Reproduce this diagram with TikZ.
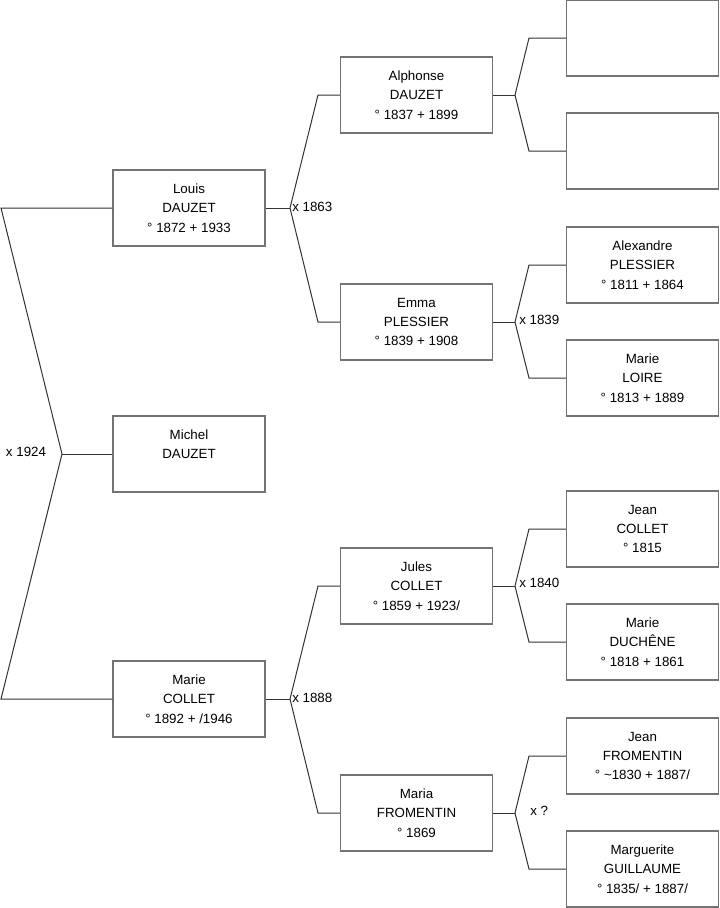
\documentclass[tikz,border=0pt]{standalone}
\usepackage{fontspec}
\setmainfont{Liberation Sans}
\begin{document}
\begin{tikzpicture}[x=0.75pt,y=-0.75pt,
  person/.style={draw=black!55,line width=0.85pt,fill=white,minimum width=114pt,minimum height=57pt,
    inner sep=0pt,align=center,font=\fontsize{10}{14.6}\selectfont,anchor=center},
  link/.style={draw=black!80,line width=0.75pt},
  lbl/.style={font=\fontsize{10}{11}\selectfont,inner sep=0pt}]
\useasboundingbox (0,0) rectangle (719,908);
% column 1
\node[person] (louis) at (189,208) {Louis\\DAUZET\\° 1872 + 1933};
\node[person] (michel) at (189,454) {Michel\\DAUZET\\~};
\node[person] (marie) at (189,699) {Marie\\COLLET\\° 1892 + /1946};
% column 2
\node[person] (alphonse) at (416.5,95) {Alphonse\\DAUZET\\° 1837 + 1899};
\node[person] (emma) at (416.5,322) {Emma\\PLESSIER\\° 1839 + 1908};
\node[person] (jules) at (416.5,586) {Jules\\COLLET\\° 1859 + 1923/};
\node[person] (maria) at (416.5,813) {Maria\\FROMENTIN\\° 1869};
% column 3
\node[person] (p1) at (642.5,38) {};
\node[person] (p2) at (642.5,151) {};
\node[person] (alex) at (642.5,265) {Alexandre\\PLESSIER\\° 1811 + 1864};
\node[person] (mloire) at (642.5,378) {Marie\\LOIRE\\° 1813 + 1889};
\node[person] (jcollet) at (642.5,529) {Jean\\COLLET\\° 1815};
\node[person] (mduchene) at (642.5,642) {Marie\\DUCHÊNE\\° 1818 + 1861};
\node[person] (jfrom) at (642.5,756) {Jean\\FROMENTIN\\° \textasciitilde1830 + 1887/};
\node[person] (marg) at (642.5,869) {Marguerite\\GUILLAUME\\° 1835/ + 1887/};
% left bracket
\coordinate (l1) at (1,208);
\coordinate (l2) at (1,699);
\coordinate (lj) at (62,454);
\draw[link] (louis.west) -- (l1) -- (lj) -- (l2) -- (marie.west);
\draw[link] (lj) -- (michel.west);
\node[lbl] (x1924) at (26,452) {x 1924};
% Louis parents
\coordinate (j1) at (290,208);
\draw[link] (louis.east) -- (j1);
\draw[link] (j1) -- (318,95) -- (alphonse.west);
\draw[link] (j1) -- (318,322) -- (emma.west);
\node[lbl,anchor=west] (x1863) at (292,207) {x 1863};
% Marie parents
\coordinate (j2) at (290,699);
\draw[link] (marie.east) -- (j2);
\draw[link] (j2) -- (318,586) -- (jules.west);
\draw[link] (j2) -- (318,813) -- (maria.west);
\node[lbl,anchor=west] (x1888) at (292,698) {x 1888};
% Alphonse parents
\coordinate (j3) at (515,95);
\draw[link] (alphonse.east) -- (j3);
\draw[link] (j3) -- (529,38) -- (p1.west);
\draw[link] (j3) -- (529,151) -- (p2.west);
% Emma parents
\coordinate (j4) at (515,322);
\draw[link] (emma.east) -- (j4);
\draw[link] (j4) -- (529,265) -- (alex.west);
\draw[link] (j4) -- (529,378) -- (mloire.west);
\node[lbl,anchor=west] (x1839) at (519,320) {x 1839};
% Jules parents
\coordinate (j5) at (515,586);
\draw[link] (jules.east) -- (j5);
\draw[link] (j5) -- (529,529) -- (jcollet.west);
\draw[link] (j5) -- (529,642) -- (mduchene.west);
\node[lbl,anchor=west] (x1840) at (519,583) {x 1840};
% Maria parents
\coordinate (j6) at (515,813);
\draw[link] (maria.east) -- (j6);
\draw[link] (j6) -- (529,756) -- (jfrom.west);
\draw[link] (j6) -- (529,869) -- (marg.west);
\node[lbl,anchor=west] (xq) at (530,811) {x ?};
\end{tikzpicture}
\end{document}
